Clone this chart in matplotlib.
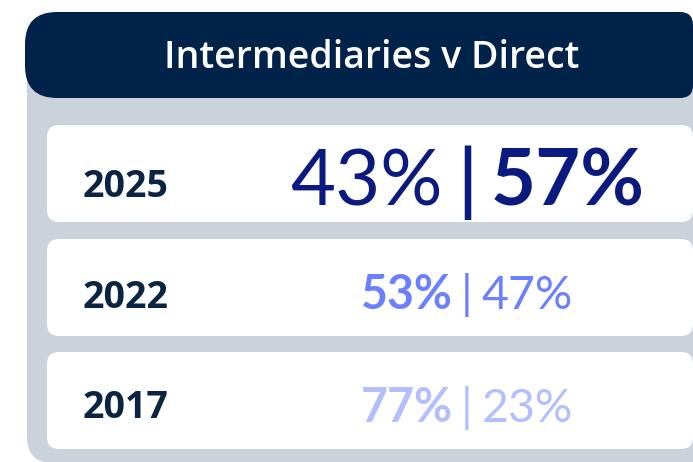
import matplotlib.pyplot as plt
from matplotlib.patches import FancyBboxPatch

# data
title = 'Intermediaries v Direct'
years = ['2025', '2022', '2017']
intermediaries = [43, 53, 77]
direct = [57, 47, 23]

# colours
navy = '#01234a'
panel_grey = '#cbd2da'
year_col = '#0b2444'
pct_cols = ['#0b1a7e', '#6a80ff', '#b3befe']

# layout (pixel units, y downwards)
W, H = 693, 462
row_top = [125, 239, 352]
row_h = 97
pct_size = [56, 33.5, 33.5]
pct_base = [206, 309, 422]
year_base = [197, 308, 418]
pipe_x = 467


def rbox(ax, x0, y0, w, h, r, fc, z):
	p = FancyBboxPatch((x0 + r, y0 + r), w - 2*r, h - 2*r,
			boxstyle='round,pad=%g' % r, fc=fc, ec='none', zorder=z)
	ax.add_patch(p)


def main():
	fig = plt.figure(figsize=(W/100, H/100), dpi=100)
	ax = fig.add_axes([0, 0, 1, 1])
	ax.set_xlim(0, W)
	ax.set_ylim(H, 0)
	ax.axis('off')

	# grey panel behind rows
	rbox(ax, 27, 50, 720, 413, 26, panel_grey, 1)
	# header bar (big round left corners, small right ones)
	rbox(ax, 25, 12, 400, 86, 32, navy, 2)
	rbox(ax, 200, 12, 493, 86, 13, navy, 2)
	ax.text(372, 68, title, color='white', family='Open Sans',
			weight='semibold', fontsize=27, ha='center', va='baseline', zorder=3)

	for i, yr in enumerate(years):
		rbox(ax, 47, row_top[i], 646, row_h, 12, 'white', 2)
		ax.text(83, year_base[i], yr, color=year_col, family='Open Sans',
				weight='bold', fontsize=27, ha='left', va='baseline', zorder=3)

		a, b = intermediaries[i], direct[i]
		fs = pct_size[i]
		gap = fs*100/72*0.31
		col = pct_cols[i]
		ax.text(pipe_x - gap, pct_base[i], '%d%%' % a, color=col, family='Lato',
				weight='bold' if a > b else 'normal', fontsize=fs,
				ha='right', va='baseline', zorder=3)
		ax.text(pipe_x, pct_base[i], '|', color=col, family='Lato',
				weight='semibold' if i == 0 else 'normal', fontsize=fs,
				ha='center', va='baseline', zorder=3)
		ax.text(pipe_x + gap, pct_base[i], '%d%%' % b, color=col, family='Lato',
				weight='bold' if b > a else 'normal', fontsize=fs,
				ha='left', va='baseline', zorder=3)

	fig.savefig('out.png', dpi=100, facecolor='white')


if __name__ == '__main__':
	main()
